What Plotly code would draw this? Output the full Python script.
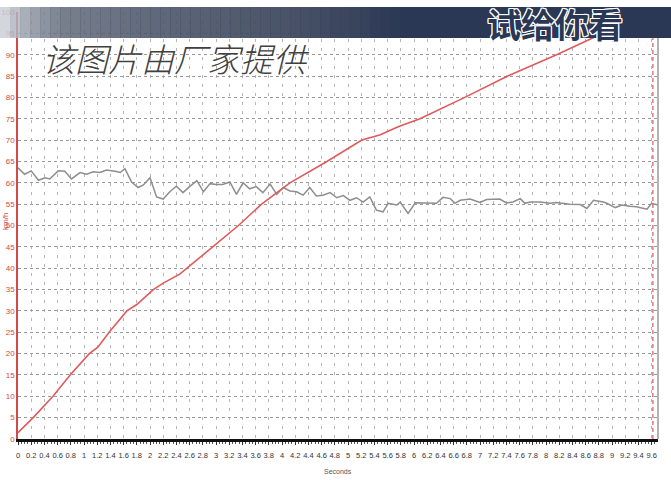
import plotly.graph_objects as go

# ---------------- data ----------------
speed_t = [0.0, 0.23, 0.53, 0.79, 1.08, 1.21, 1.38, 1.65, 1.8, 2.05, 2.2, 2.45,
           2.95, 3.34, 3.69, 4.12, 4.68, 5.21, 5.48, 5.76, 6.09, 6.77, 7.42,
           8.16, 8.69, 8.85]
speed_v = [1.5, 5.0, 10.0, 15.0, 20.0, 21.5, 25.0, 30.0, 31.5, 35.0, 36.5, 38.6,
           45.0, 50.0, 55.0, 60.0, 65.0, 70.0, 71.2, 73.1, 75.0, 80.0, 85.0,
           90.0, 93.8, 95.0]

gray_t = [0.0, 0.1, 0.2, 0.31, 0.41, 0.48, 0.61, 0.71, 0.81, 0.94, 1.04, 1.14,
          1.24, 1.34, 1.47, 1.55, 1.62, 1.72, 1.82, 1.9, 2.0, 2.1, 2.2, 2.3,
          2.4, 2.5, 2.6, 2.71, 2.81, 2.91, 3.0, 3.1, 3.21, 3.31, 3.41, 3.51,
          3.61, 3.71, 3.82, 3.92, 4.02, 4.12, 4.22, 4.32, 4.42, 4.52, 4.62,
          4.73, 4.83, 4.93, 5.03, 5.13, 5.23, 5.33, 5.43, 5.53, 5.61, 5.74,
          5.79, 5.91, 6.02, 6.34, 6.44, 6.55, 6.62, 6.7, 6.85, 7.0, 7.1, 7.3,
          7.4, 7.5, 7.61, 7.68, 7.76, 7.91, 8.06, 8.16, 8.36, 8.52, 8.62, 8.72,
          8.87, 8.92, 9.05, 9.15, 9.27, 9.37, 9.53, 9.6, 9.7]
gray_v = [63.5, 62.0, 62.8, 60.6, 61.2, 60.9, 62.8, 62.7, 60.9, 62.4, 62.0, 62.6,
          62.4, 63.0, 62.7, 62.4, 63.3, 60.2, 58.9, 59.5, 61.2, 56.7, 56.2, 57.9,
          59.2, 57.7, 59.1, 60.5, 57.9, 59.8, 59.6, 59.6, 60.2, 57.3, 60.0, 58.6,
          59.1, 57.7, 59.7, 57.3, 58.9, 58.1, 57.9, 57.1, 58.9, 56.9, 57.1,
          57.7, 56.5, 57.0, 55.9, 56.5, 55.5, 56.7, 53.6, 53.2, 55.2, 54.8,
          55.5, 52.8, 55.3, 55.2, 56.6, 56.3, 55.2, 55.9, 56.2, 55.4, 56.1, 56.2,
          55.3, 55.5, 56.3, 55.2, 55.5, 55.5, 55.2, 55.4, 55.0, 54.9, 54.0, 55.9,
          55.5, 55.2, 54.2, 54.8, 54.5, 54.4, 53.8, 55.2, 54.8]

x_tick_labels = ["0", "0.2", "0.4", "0.6", "0.8", "1", "1.2", "1.4", "1.6", "1.8",
                 "2", "2.2", "2.4", "2.6", "2.8", "3", "3.2", "3.4", "3.6", "3.8",
                 "4", "4.2", "4.4", "4.6", "4.8", "5", "5.2", "5.4", "5.6", "5.8",
                 "6", "6.2", "6.4", "6.6", "6.8", "7", "7.2", "7.4", "7.6", "7.8",
                 "8", "8.2", "8.4", "8.6", "8.8", "9", "9.2", "9.4", "9.6"]
y_tick_labels = ["0", "5", "10", "15", "20", "25", "30", "35", "40", "45", "50",
                 "55", "60", "65", "70", "75", "80", "85", "90", "95", "100"]

cursor_time = 9.62
x_max = 9.697

title_note = "该图片由厂家提供"
watermark = "试给你看"
x_title = "Seconds"
y_title = "km/h"

TICK_FONT = "Liberation Sans"

# ---------------- figure ----------------
fig = go.Figure()
fig.add_trace(go.Scatter(x=gray_t, y=gray_v, mode="lines",
                         line=dict(color="#8e8e8e", width=1.5), hoverinfo="skip"))
fig.add_trace(go.Scatter(x=speed_t, y=speed_v, mode="lines",
                         line=dict(color="#e05a5c", width=1.6), hoverinfo="skip"))

W, H = 671, 480
ML, MR, MT, MB = 18, 13, 12, 41
PW, PH = W - ML - MR, H - MT - MB


def px2paper_x(px):
    return (px - ML) / PW


def py2paper_y(py):
    return (H - MB - py) / PH


shapes = []
# header band with a left-to-right gradient
stops = [(0, (214, 218, 224)), (25, (150, 158, 170)), (60, (96, 105, 122)),
         (150, (76, 86, 106)), (300, (62, 72, 94)), (400, (43, 56, 85)),
         (671, (43, 56, 85))]


def col_at(px):
    for (a, ca), (b, cb) in zip(stops[:-1], stops[1:]):
        if a <= px <= b:
            f = (px - a) / (b - a) if b > a else 0
            return tuple(int(round(ca[i] + (cb[i] - ca[i]) * f)) for i in range(3))
    return stops[-1][1]


band_top, band_bot = 7, 38
step = 10
px = 0
while px < 400:
    c = col_at(px + step / 2)
    op = 0.82 + 0.18 * min(px / 400, 1)
    shapes.append(dict(type="rect", xref="paper", yref="paper",
                       x0=px2paper_x(px), x1=px2paper_x(px + step + 0.6),
                       y0=py2paper_y(band_bot), y1=py2paper_y(band_top),
                       fillcolor="rgb(%d,%d,%d)" % c, opacity=op,
                       line=dict(width=0), layer="above"))
    px += step
shapes.append(dict(type="rect", xref="paper", yref="paper",
                   x0=px2paper_x(400), x1=px2paper_x(W),
                   y0=py2paper_y(band_bot), y1=py2paper_y(band_top),
                   fillcolor="rgb(43,56,85)", line=dict(width=0), layer="above"))

# right border of the plot
shapes.append(dict(type="line", xref="paper", yref="paper", x0=1, x1=1,
                   y0=0, y1=py2paper_y(band_bot), line=dict(color="#9a9a9a", width=1.5)))
# red cursor line
shapes.append(dict(type="line", xref="x", yref="paper", x0=cursor_time, x1=cursor_time,
                   y0=0, y1=py2paper_y(band_bot),
                   line=dict(color="#c83a3a", width=1, dash="4px,3px")))

outline = ("1px 0 0 #ffffff, -1px 0 0 #ffffff, 0 1px 0 #ffffff, 0 -1px 0 #ffffff, "
           "1px 1px 0 #ffffff, -1px -1px 0 #ffffff, 1px -1px 0 #ffffff, -1px 1px 0 #ffffff")

annotations = [
    dict(text=title_note, xref="paper", yref="paper",
         x=px2paper_x(176), y=py2paper_y(58), xanchor="center", yanchor="middle",
         showarrow=False,
         font=dict(family="Noto Sans CJK SC", size=33, color="#404040",
                   style="italic", weight=300)),
    dict(text=watermark, xref="paper", yref="paper",
         x=px2paper_x(555), y=py2paper_y(23), xanchor="center", yanchor="middle",
         showarrow=False,
         font=dict(family="Noto Sans CJK SC", size=34, color="#2b3855",
                   weight="bold", shadow=outline)),
    dict(text=x_title, xref="paper", yref="paper",
         x=px2paper_x(338), y=py2paper_y(471), xanchor="center", yanchor="middle",
         showarrow=False, font=dict(family=TICK_FONT, size=7, color="#555555")),
    dict(text=y_title, xref="paper", yref="paper",
         x=px2paper_x(5), y=py2paper_y(222), xanchor="center", yanchor="middle",
         textangle=-90, showarrow=False,
         font=dict(family=TICK_FONT, size=8, color="#d04a4a")),
]

fig.update_layout(
    width=W, height=H,
    margin=dict(l=ML, r=MR, t=MT, b=MB, pad=0, autoexpand=False),
    paper_bgcolor="white", plot_bgcolor="white",
    showlegend=False,
    shapes=shapes,
    annotations=annotations,
    xaxis=dict(range=[0, x_max], tickmode="array", automargin=False,
               tickvals=[float(s) for s in x_tick_labels], ticktext=x_tick_labels,
               tickangle=0, tickfont=dict(family=TICK_FONT, size=7.5, color="#333333"),
               ticklabelstandoff=4,
               showgrid=True, gridcolor="#b5b5b5", gridwidth=1, griddash="3px,6px",
               showline=True, linecolor="#111111", linewidth=3,
               ticks="outside", ticklen=3, tickcolor="#333333",
               minor=dict(dtick=0.05, ticks="outside", ticklen=2, tickcolor="#555555",
                          showgrid=False),
               zeroline=False, fixedrange=True),
    yaxis=dict(range=[0, 100], tickmode="array", automargin=False,
               tickvals=[float(s) for s in y_tick_labels], ticktext=y_tick_labels,
               tickfont=dict(family=TICK_FONT, size=8, color="#d04a4a"),
               showgrid=True, gridcolor="#9a9a9a", gridwidth=1, griddash="dot",
               showline=True, linecolor="#d04a4a", linewidth=1.5,
               ticks="", zeroline=False, fixedrange=True),
)

fig.write_html("out.html", config={"displayModeBar": False},
               post_script="document.body.style.margin='0';document.body.style.padding='0';")
